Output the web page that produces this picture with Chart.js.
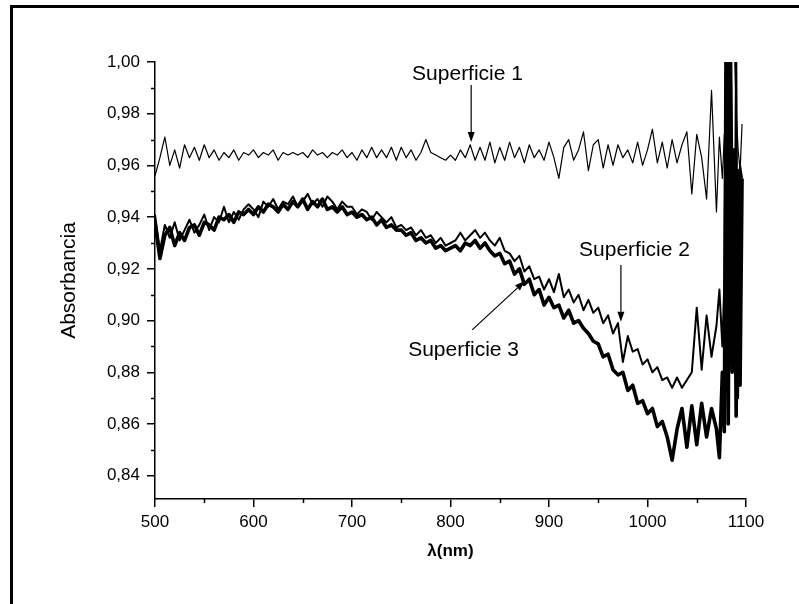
<!DOCTYPE html>
<html lang="es">
<head>
<meta charset="utf-8">
<title>Absorbancia</title>
<script src="https://cdn.jsdelivr.net/npm/chart.js@4.4.1/dist/chart.umd.min.js"></script>
<style>
    html, body { margin: 0; padding: 0; background: #fff; }
    #contenedor { width: 799px; height: 604px; position: relative; }
</style>
</head>
<body>
<div id="contenedor"><canvas id="grafico"></canvas></div>
<script>
// [DATOS] longitud de onda (nm): cada 5 nm hasta 1070, luego más fino en la cola ruidosa
const longitudOnda = [
    500, 505, 510, 515, 520, 525, 530, 535, 540, 545,
    550, 555, 560, 565, 570, 575, 580, 585, 590, 595,
    600, 605, 610, 615, 620, 625, 630, 635, 640, 645,
    650, 655, 660, 665, 670, 675, 680, 685, 690, 695,
    700, 705, 710, 715, 720, 725, 730, 735, 740, 745,
    750, 755, 760, 765, 770, 775, 780, 785, 790, 795,
    800, 805, 810, 815, 820, 825, 830, 835, 840, 845,
    850, 855, 860, 865, 870, 875, 880, 885, 890, 895,
    900, 905, 910, 915, 920, 925, 930, 935, 940, 945,
    950, 955, 960, 965, 970, 975, 980, 985, 990, 995,
    1000, 1005, 1010, 1015, 1020, 1025, 1030, 1035, 1040, 1045,
    1050, 1055, 1060, 1065, 1070,
    1073, 1076, 1078, 1080, 1082, 1084, 1086, 1088, 1090, 1092, 1094, 1096
];

const superficie1 = [
    0.956, 0.963, 0.971, 0.960, 0.966, 0.959, 0.968, 0.963, 0.967, 0.962,
    0.968, 0.963, 0.966, 0.962, 0.965, 0.963, 0.966, 0.962, 0.965, 0.964,
    0.966, 0.963, 0.965, 0.964, 0.966, 0.962, 0.965, 0.964, 0.965, 0.964,
    0.965, 0.963, 0.966, 0.964, 0.965, 0.963, 0.965, 0.964, 0.966, 0.963,
    0.965, 0.962, 0.966, 0.963, 0.967, 0.963, 0.966, 0.963, 0.967, 0.962,
    0.967, 0.963, 0.966, 0.962, 0.965, 0.970, 0.965, 0.964, 0.963, 0.962,
    0.964, 0.962, 0.966, 0.963, 0.968, 0.962, 0.967, 0.962, 0.969, 0.961,
    0.967, 0.962, 0.969, 0.963, 0.967, 0.961, 0.968, 0.963, 0.966, 0.962,
    0.969, 0.963, 0.955, 0.967, 0.970, 0.962, 0.966, 0.973, 0.958, 0.968,
    0.970, 0.959, 0.968, 0.960, 0.968, 0.963, 0.966, 0.961, 0.969, 0.960,
    0.966, 0.974, 0.961, 0.969, 0.959, 0.970, 0.961, 0.968, 0.973, 0.949,
    0.972, 0.963, 0.947, 0.989, 0.942,
    0.971, 0.955, 0.972, 0.962, 0.984, 0.978, 1.010, 1.008, 0.982, 0.966, 0.958, 0.976
];

const superficie2 = [
    0.941, 0.927, 0.937, 0.932, 0.938, 0.931, 0.935, 0.939, 0.934, 0.937,
    0.941, 0.935, 0.940, 0.938, 0.944, 0.938, 0.942, 0.939, 0.943, 0.945,
    0.943, 0.940, 0.946, 0.944, 0.947, 0.943, 0.946, 0.945, 0.948, 0.944,
    0.946, 0.949, 0.945, 0.947, 0.944, 0.948, 0.946, 0.943, 0.946, 0.944,
    0.944, 0.941, 0.943, 0.942, 0.939, 0.942, 0.940, 0.938, 0.940, 0.936,
    0.937, 0.935, 0.936, 0.933, 0.935, 0.932, 0.933, 0.930, 0.932, 0.929,
    0.930, 0.931, 0.934, 0.931, 0.933, 0.935, 0.932, 0.934, 0.931, 0.929,
    0.932, 0.927, 0.926, 0.923, 0.925, 0.919, 0.921, 0.916, 0.917, 0.912,
    0.916, 0.911, 0.918, 0.909, 0.912, 0.907, 0.910, 0.904, 0.908, 0.903,
    0.905, 0.899, 0.902, 0.895, 0.899, 0.884, 0.894, 0.888, 0.889, 0.883,
    0.885, 0.880, 0.882, 0.877, 0.878, 0.874, 0.878, 0.874, 0.877, 0.880,
    0.905, 0.881, 0.902, 0.886, 0.898,
    0.912, 0.890, 0.915, 1.020, 0.890, 1.020, 0.965, 0.890, 1.010, 0.870, 0.960, 0.955
];

const superficie3 = [
    0.938, 0.924, 0.933, 0.936, 0.929, 0.934, 0.931, 0.936, 0.937, 0.933,
    0.938, 0.937, 0.935, 0.940, 0.939, 0.941, 0.938, 0.942, 0.941, 0.943,
    0.941, 0.944, 0.942, 0.945, 0.944, 0.942, 0.945, 0.943, 0.946, 0.944,
    0.947, 0.943, 0.946, 0.944, 0.947, 0.943, 0.944, 0.942, 0.944, 0.941,
    0.942, 0.940, 0.941, 0.939, 0.940, 0.937, 0.939, 0.936, 0.937, 0.935,
    0.935, 0.933, 0.934, 0.931, 0.932, 0.930, 0.931, 0.928, 0.929, 0.927,
    0.928, 0.929, 0.927, 0.930, 0.929, 0.931, 0.928, 0.930, 0.927, 0.925,
    0.926, 0.922, 0.923, 0.918, 0.920, 0.914, 0.916, 0.910, 0.912, 0.906,
    0.909, 0.905, 0.906, 0.901, 0.904, 0.899, 0.900, 0.897, 0.895, 0.892,
    0.891, 0.886, 0.887, 0.881, 0.879, 0.880, 0.873, 0.875, 0.868, 0.869,
    0.864, 0.866, 0.859, 0.861, 0.855, 0.846, 0.858, 0.866, 0.851, 0.867,
    0.852, 0.868, 0.855, 0.866, 0.858,
    0.847, 0.880, 0.857, 1.030, 0.860, 1.020, 0.880, 0.966, 0.863, 0.958, 0.875, 0.955
];

// marcas menores de los ejes (sin etiqueta)
const ticksMenoresX = [550, 650, 750, 850, 950, 1050];
const ticksMenoresY = [0.85, 0.87, 0.89, 0.91, 0.93, 0.95, 0.97, 0.99];

// rótulos con flecha, en unidades de los ejes
const anotaciones = [
    { texto: 'Superficie 1', x: 761, y: 0.9954, flecha: [821, 0.9911, 821, 0.9691] },
    { texto: 'Superficie 2', x: 930.5, y: 0.9273, flecha: [973, 0.9215, 973, 0.8995] },
    { texto: 'Superficie 3', x: 757, y: 0.8886, flecha: [822, 0.8964, 875.5, 0.9153] }
];

const FUENTE = "'Liberation Sans', Arial, sans-serif";

function serie(valores) {
    return longitudOnda.map((l, i) => ({ x: l, y: valores[i] }));
}

// Marco, marcas menores y rótulos
const pluginExtras = {
    id: 'extras',
    beforeDraw(chart) {
        const ctx = chart.ctx;
        ctx.save();
        ctx.fillStyle = '#fff';
        ctx.fillRect(0, 0, chart.width, chart.height);
        ctx.strokeStyle = '#000';
        ctx.lineWidth = 3;
        ctx.strokeRect(11.5, 6.5, chart.width + 50, chart.height + 50);
        ctx.restore();
    },
    afterDraw(chart) {
        const ctx = chart.ctx;
        const sx = chart.scales.x;
        const sy = chart.scales.y;
        ctx.save();
        ctx.strokeStyle = '#000';
        ctx.lineWidth = 1.5;
        ctx.beginPath();
        ticksMenoresX.forEach(v => {
            const px = Math.round(sx.getPixelForValue(v)) + 0.5;
            ctx.moveTo(px, sx.top);
            ctx.lineTo(px, sx.top + 4);
        });
        ticksMenoresY.forEach(v => {
            const py = Math.round(sy.getPixelForValue(v)) + 0.5;
            ctx.moveTo(sy.right, py);
            ctx.lineTo(sy.right - 4, py);
        });
        ctx.stroke();

        ctx.font = `21px ${FUENTE}`;
        ctx.fillStyle = '#000';
        ctx.textAlign = 'left';
        ctx.textBaseline = 'middle';
        anotaciones.forEach(a => {
            ctx.fillText(a.texto, sx.getPixelForValue(a.x), sy.getPixelForValue(a.y));
            const x1 = sx.getPixelForValue(a.flecha[0]);
            const y1 = sy.getPixelForValue(a.flecha[1]);
            const x2 = sx.getPixelForValue(a.flecha[2]);
            const y2 = sy.getPixelForValue(a.flecha[3]);
            const ang = Math.atan2(y2 - y1, x2 - x1);
            const largo = 10, ancho = 3.5;
            const bx = x2 - largo * Math.cos(ang);
            const by = y2 - largo * Math.sin(ang);
            ctx.lineWidth = 1.2;
            ctx.beginPath();
            ctx.moveTo(x1, y1);
            ctx.lineTo(bx, by);
            ctx.stroke();
            ctx.beginPath();
            ctx.moveTo(x2, y2);
            ctx.lineTo(bx + ancho * Math.sin(ang), by - ancho * Math.cos(ang));
            ctx.lineTo(bx - ancho * Math.sin(ang), by + ancho * Math.cos(ang));
            ctx.closePath();
            ctx.fill();
        });
        ctx.restore();
    }
};

const configGrafico = {
    type: 'line',
    data: {
        datasets: [
            { label: 'Superficie 1', data: serie(superficie1), borderColor: '#000', borderWidth: 1.2 },
            { label: 'Superficie 2', data: serie(superficie2), borderColor: '#000', borderWidth: 2 },
            { label: 'Superficie 3', data: serie(superficie3), borderColor: '#000', borderWidth: 3.6 }
        ]
    },
    options: {
        responsive: true,
        maintainAspectRatio: false,
        animation: false,
        devicePixelRatio: 1,
        elements: {
            point: { radius: 0 },
            line: { tension: 0, borderJoinStyle: 'round' }
        },
        layout: { padding: { top: 62, right: 53, bottom: 35, left: 0 } },
        plugins: {
            legend: { display: false },
            tooltip: { enabled: false }
        },
        scales: {
            x: {
                type: 'linear',
                min: 500,
                max: 1100,
                afterFit: s => { s.height = 70; },
                border: { display: true, color: '#000', width: 1.5 },
                grid: { drawOnChartArea: false, drawTicks: true, tickLength: 8, color: '#000', lineWidth: 1.5 },
                ticks: {
                    stepSize: 100,
                    padding: 5,
                    color: '#000',
                    font: { family: FUENTE, size: 17 },
                    callback: v => String(v)
                },
                title: {
                    display: true,
                    text: 'λ(nm)',
                    color: '#000',
                    font: { family: FUENTE, size: 17, weight: 'bold' },
                    padding: { top: 0, bottom: 7 }
                }
            },
            y: {
                type: 'linear',
                min: 0.831,
                max: 1.0,
                afterFit: s => { s.width = 155; },
                border: { display: true, color: '#000', width: 1.5 },
                grid: { drawOnChartArea: false, drawTicks: true, tickLength: 8, color: '#000', lineWidth: 1.5 },
                ticks: {
                    stepSize: 0.02,
                    includeBounds: false,
                    padding: 7,
                    color: '#000',
                    font: { family: FUENTE, size: 17 },
                    callback: v => v.toFixed(2).replace('.', ',')
                },
                title: {
                    display: true,
                    text: 'Absorbancia',
                    color: '#000',
                    font: { family: FUENTE, size: 21 },
                    padding: { top: 57, bottom: 0 }
                }
            }
        }
    },
    plugins: [pluginExtras]
};

new Chart(document.getElementById('grafico'), configGrafico);
</script>
</body>
</html>
